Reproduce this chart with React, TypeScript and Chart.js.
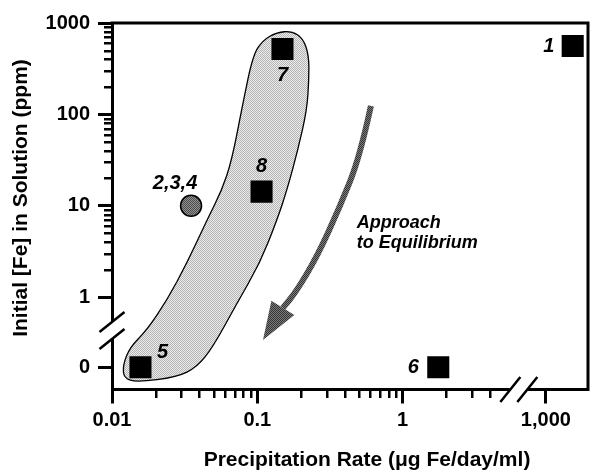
import React, { useEffect, useRef } from 'react';
import { Chart, registerables } from 'chart.js';
Chart.register(...registerables);

// ---- data ----
const sampleLabels = ['1', '2,3,4', '5', '6', '7', '8'];
const precipitationRate = [1530, 0.035, 0.0157, 1.76, 0.149, 0.107]; // µg Fe/day/ml
const initialFePpm = [560, 10, 0, 0, 520, 14.3]; // ppm
const sampleMarker = ['square', 'circle', 'square', 'square', 'square', 'square'];

const xTickValues = [0.01, 0.1, 1, 1000];
const xTickLabels = ['0.01', '0.1', '1', '1,000'];
const yTickValues = [0, 1, 10, 100, 1000];
const yTickLabels = ['0', '1', '10', '100', '1000'];
const xMinorValues = [0.02, 0.03, 0.04, 0.05, 0.06, 0.07, 0.08, 0.09, 0.2, 0.3, 0.4, 0.5, 0.6, 0.7, 0.8, 0.9, 2, 3, 4];
const yMinorValues = [2, 3, 4, 5, 6, 7, 8, 9, 20, 30, 40, 50, 60, 70, 80, 90, 200, 300, 400, 500, 600, 700, 800, 900];

// ---- axis mapping (log axes with breaks) ----
const X_BREAK_SHIFT = 3 - 0.986; // decades removed by the x-axis break
const Y_ZERO_POS = -0.766; // where "0" sits below the y-axis break
const X_MIN = -2, X_MAX = 1.276, Y_MIN = -1.01, Y_MAX = 3;
const X_BREAK_AT = 0.8;
const Y_BREAK_AT = -0.364;
const xPos = (r: number) => (r >= 100 ? Math.log10(r) - X_BREAK_SHIFT : Math.log10(r));
const yPos = (c: number) => (c >= 1 ? Math.log10(c) : Y_ZERO_POS);

// annotation geometry in axis units [log10 rate, axis y]
const bandOutline: [number, number][] = [
  [-0.865, 2.899], [-0.762, 2.91], [-0.686, 2.834], [-0.645, 2.648], [-0.645, 2.374],
  [-0.659, 2.046], [-0.721, 1.608], [-0.796, 1.171], [-0.865, 0.842], [-0.982, 0.372],
  [-1.14, -0.066], [-1.306, -0.547], [-1.416, -0.766], [-1.553, -0.875], [-1.829, -0.93],
  [-1.918, -0.886], [-1.925, -0.744], [-1.877, -0.547], [-1.76, -0.361], [-1.622, -0.033],
  [-1.485, 0.372], [-1.347, 0.842], [-1.244, 1.171], [-1.175, 1.499], [-1.099, 2.123],
  [-1.03, 2.648], [-0.961, 2.812],
];
const arrowPath: [number, number][] = [
  [-0.218, 2.092], [-0.294, 1.534], [-0.432, 0.987], [-0.59, 0.44], [-0.734, 0.057], [-0.824, -0.118],
];
const arrowTip: [number, number] = [-0.961, -0.468];
const noteAnchor: [number, number] = [-0.315, 0.757];
const noteLines = ['Approach', 'to Equilibrium'];
const labelOffsets: [number, number][] = [[-24, 0], [-16, -22], [22, -15], [-25, 0], [0, 27], [0, -25]];

const FONT = '"Liberation Sans", Arial, Helvetica, sans-serif';

function stipple(ctx: CanvasRenderingContext2D, dark: string, light: string) {
  const c = document.createElement('canvas');
  c.width = 2; c.height = 2;
  const g = c.getContext('2d')!;
  g.fillStyle = light; g.fillRect(0, 0, 2, 2);
  g.fillStyle = dark; g.fillRect(0, 0, 1, 1); g.fillRect(1, 1, 1, 1);
  return ctx.createPattern(c, 'repeat')!;
}

function smoothClosed(ctx: CanvasRenderingContext2D, p: number[][]) {
  const n = p.length;
  const mid = (a: number[], b: number[]) => [(a[0] + b[0]) / 2, (a[1] + b[1]) / 2];
  const m0 = mid(p[n - 1], p[0]);
  ctx.moveTo(m0[0], m0[1]);
  for (let i = 0; i < n; i++) {
    const m = mid(p[i], p[(i + 1) % n]);
    ctx.quadraticCurveTo(p[i][0], p[i][1], m[0], m[1]);
  }
  ctx.closePath();
}

function smoothOpen(ctx: CanvasRenderingContext2D, p: number[][]) {
  const mid = (a: number[], b: number[]) => [(a[0] + b[0]) / 2, (a[1] + b[1]) / 2];
  ctx.moveTo(p[0][0], p[0][1]);
  for (let i = 1; i < p.length - 1; i++) {
    const m = mid(p[i], p[i + 1]);
    ctx.quadraticCurveTo(p[i][0], p[i][1], m[0], m[1]);
  }
  ctx.lineTo(p[p.length - 1][0], p[p.length - 1][1]);
}

export default function App() {
  const ref = useRef<HTMLCanvasElement>(null);
  useEffect(() => {
    const canvas = ref.current!;
    const ctx0 = canvas.getContext('2d')!;
    const bandFill = stipple(ctx0, '#b4b4b4', '#ececec');
    const circleFill = stipple(ctx0, '#4c4c4c', '#939393');
    const arrowFill = stipple(ctx0, '#333333', '#7c7c7c');

    const annot = {
      id: 'annot',
      beforeDatasetsDraw(chart: any) {
        const { ctx, scales: { x, y } } = chart;
        const P = (q: [number, number]) => [x.getPixelForValue(q[0]), y.getPixelForValue(q[1])];
        ctx.save();
        // shaded band
        ctx.beginPath();
        smoothClosed(ctx, bandOutline.map(P));
        ctx.fillStyle = bandFill;
        ctx.fill();
        ctx.lineWidth = 1.3;
        ctx.strokeStyle = '#000';
        ctx.stroke();
        // arrow shaft
        const pts = arrowPath.map(P);
        ctx.beginPath();
        smoothOpen(ctx, pts);
        ctx.lineWidth = 6;
        ctx.lineCap = 'butt';
        ctx.strokeStyle = arrowFill;
        ctx.stroke();
        // arrow head
        const base = pts[pts.length - 1];
        const tip = P(arrowTip);
        const dx = tip[0] - base[0], dy = tip[1] - base[1];
        const len = Math.hypot(dx, dy);
        const nx = -dy / len, ny = dx / len;
        const hw = 13.5;
        ctx.beginPath();
        ctx.moveTo(tip[0], tip[1]);
        ctx.lineTo(base[0] + nx * hw, base[1] + ny * hw);
        ctx.lineTo(base[0] - nx * hw, base[1] - ny * hw);
        ctx.closePath();
        ctx.fillStyle = arrowFill;
        ctx.fill();
        ctx.restore();
      },
      afterDraw(chart: any) {
        const { ctx, chartArea: a, scales: { x, y } } = chart;
        ctx.save();
        ctx.strokeStyle = '#000';
        ctx.fillStyle = '#000';
        // top & right frame
        ctx.lineWidth = 3;
        ctx.beginPath();
        ctx.moveTo(a.left - 1.5, a.top);
        ctx.lineTo(a.right, a.top);
        ctx.lineTo(a.right, a.bottom + 1.5);
        ctx.stroke();
        // minor ticks
        xMinorValues.forEach((v) => {
          const tx = Math.round(x.getPixelForValue(xPos(v)));
          ctx.fillRect(tx - 1, Math.round(a.bottom), 2.5, 8);
        });
        yMinorValues.forEach((v) => {
          const ty = Math.round(y.getPixelForValue(yPos(v)));
          ctx.fillRect(Math.round(a.left) - 8, ty - 1, 8, 2.5);
        });
        // axis breaks
        const yb = y.getPixelForValue(Y_BREAK_AT);
        const xb = x.getPixelForValue(X_BREAK_AT);
        ctx.fillStyle = '#fff';
        ctx.fillRect(a.left - 3, yb - 8.5, 6, 17);
        ctx.fillRect(xb - 9, a.bottom - 3, 18, 6);
        ctx.lineWidth = 2.5;
        ctx.beginPath();
        for (const o of [-8.5, 8.5]) {
          ctx.moveTo(a.left - 12.5, yb + o + 10);
          ctx.lineTo(a.left + 12.5, yb + o - 10);
          ctx.moveTo(xb + o - 10, a.bottom + 12.5);
          ctx.lineTo(xb + o + 10, a.bottom - 12.5);
        }
        ctx.stroke();
        // point labels
        const meta = chart.getDatasetMeta(0);
        ctx.fillStyle = '#000';
        ctx.font = `italic bold 20px ${FONT}`;
        ctx.textAlign = 'center';
        ctx.textBaseline = 'middle';
        sampleLabels.forEach((t, i) => {
          const el = meta.data[i];
          ctx.fillText(t, el.x + labelOffsets[i][0], el.y + labelOffsets[i][1]);
        });
        // note text
        ctx.font = `italic bold 18px ${FONT}`;
        ctx.textAlign = 'left';
        ctx.textBaseline = 'alphabetic';
        const nx = x.getPixelForValue(noteAnchor[0]);
        const ny = y.getPixelForValue(noteAnchor[1]);
        noteLines.forEach((t, i) => ctx.fillText(t, nx, ny + i * 19.5));
        // axis titles
        ctx.font = `bold 21px ${FONT}`;
        ctx.textAlign = 'center';
        ctx.fillText('Precipitation Rate (\u03bcg Fe/day/ml)', 367, 466);
        ctx.translate(27, 198);
        ctx.rotate(-Math.PI / 2);
        ctx.fillText('Initial [Fe] in Solution (ppm)', 0, 0);
        ctx.restore();
      },
    };

    const tickFont = { family: FONT, weight: 'bold' as const, size: 20 };
    const chart = new Chart(canvas, {
      type: 'scatter',
      data: {
        datasets: [
          {
            data: precipitationRate.map((r, i) => ({ x: xPos(r), y: yPos(initialFePpm[i]) })),
            pointStyle: sampleMarker.map((m) => (m === 'circle' ? 'circle' : 'rect')) as any,
            pointRadius: sampleMarker.map((m) => (m === 'circle' ? 10.5 : 15.6)),
            backgroundColor: sampleMarker.map((m) => (m === 'circle' ? circleFill : '#000')) as any,
            borderColor: '#000',
            borderWidth: sampleMarker.map((m) => (m === 'circle' ? 1.5 : 0)),
          },
        ],
      },
      options: {
        responsive: false,
        animation: false,
        devicePixelRatio: 1,
        events: [],
        layout: { autoPadding: false, padding: { top: 23, right: 4, left: 0, bottom: 0 } },
        plugins: { legend: { display: false }, tooltip: { enabled: false } },
        scales: {
          x: {
            type: 'linear',
            min: X_MIN,
            max: X_MAX,
            afterFit: (s: any) => { s.height = 81.5; s.paddingLeft = 0; s.paddingRight = 0; },
            afterBuildTicks: (s: any) => { s.ticks = xTickValues.map((v) => ({ value: xPos(v) })); },
            ticks: { autoSkip: false, maxRotation: 0, padding: 5, color: '#000', font: tickFont, callback: (_v: any, i: number) => xTickLabels[i] },
            grid: { display: true, drawOnChartArea: false, drawTicks: true, tickLength: 14, tickWidth: 3, tickColor: '#000' },
            border: { display: true, width: 3, color: '#000' },
          },
          y: {
            type: 'linear',
            min: Y_MIN,
            max: Y_MAX,
            afterFit: (s: any) => { s.width = 112; s.paddingTop = 0; s.paddingBottom = 0; },
            afterBuildTicks: (s: any) => { s.ticks = yTickValues.map((v) => ({ value: yPos(v) })); },
            ticks: { autoSkip: false, padding: 8, color: '#000', font: tickFont, callback: (_v: any, i: number) => yTickLabels[i] },
            grid: { display: true, drawOnChartArea: false, drawTicks: true, tickLength: 14, tickWidth: 3, tickColor: '#000' },
            border: { display: true, width: 3, color: '#000' },
          },
        },
      },
      plugins: [annot],
    });
    return () => chart.destroy();
  }, []);

  return (
    <div style={{ position: 'absolute', left: 0, top: 0, width: 592, height: 471, background: '#fff' }}>
      <canvas ref={ref} width={592} height={471} style={{ display: 'block' }} />
    </div>
  );
}
